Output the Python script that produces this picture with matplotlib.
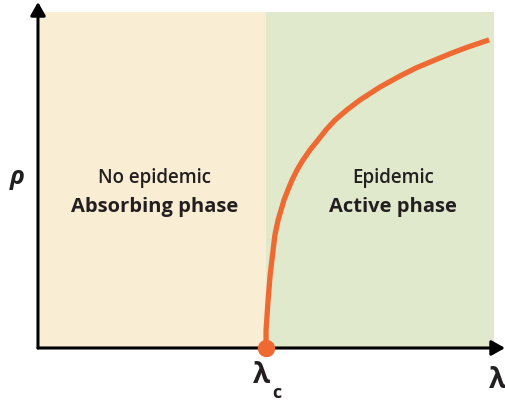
import matplotlib
matplotlib.use("Agg")
import matplotlib.pyplot as plt

# phase boundaries (lambda_c = 1)
lam_c = 1.0
lam_max = 2.0
rho_max = 1.09

# order parameter curve
lam = [1.000, 1.000, 1.009, 1.018, 1.031, 1.039, 1.053, 1.066, 1.079, 1.096,
       1.114, 1.136, 1.162, 1.193, 1.228, 1.263, 1.303, 1.355, 1.412, 1.500,
       1.588, 1.658, 1.732, 1.807, 1.882, 1.978]
rho = [0.000, 0.058, 0.156, 0.237, 0.318, 0.367, 0.416, 0.448, 0.481, 0.513,
       0.545, 0.578, 0.610, 0.643, 0.675, 0.708, 0.740, 0.773, 0.805, 0.847,
       0.883, 0.909, 0.932, 0.955, 0.976, 1.000]

left_labels = ["No epidemic", "Absorbing phase"]
right_labels = ["Epidemic", "Active phase"]

beige = "#F9EDD4"
green = "#E1E9CD"
orange = "#EE6A32"
ink = "#231F20"

fam = ["Open Sans", "DejaVu Sans"]

fig = plt.figure(figsize=(5.06, 4.03), dpi=100)
ax = fig.add_axes([0.0751, 0.1365, 0.923, 0.8586])
ax.set_xlim(0, 2.048)
ax.set_ylim(0, 1.123)
ax.axis("off")

ax.axvspan(0.009, lam_c, ymin=0, ymax=rho_max / 1.123, color=beige, lw=0)
ax.axvspan(lam_c, lam_max, ymin=0, ymax=rho_max / 1.123, color=green, lw=0)

ax.plot(lam, rho, color=orange, lw=3.8, solid_capstyle="butt",
        solid_joinstyle="round", zorder=3)

# axes with arrows
arr = dict(arrowstyle="-|>,head_length=0.8,head_width=0.45", color="black",
           lw=2.2, shrinkA=0, shrinkB=0, mutation_scale=10)
ax.annotate("", xy=(2.048, 0), xytext=(0, 0), arrowprops=arr,
            annotation_clip=False, zorder=4)
ax.annotate("", xy=(0, 1.123), xytext=(0, 0), arrowprops=arr,
            annotation_clip=False, zorder=4)

ax.plot([lam_c], [0], "o", color=orange, ms=11.5, clip_on=False, zorder=5)

ax.text(0.513, 0.552, left_labels[0], ha="center", va="center",
        fontsize=13.5, family=fam, fontweight="semibold", color=ink)
ax.text(0.513, 0.458, left_labels[1], ha="center", va="center",
        fontsize=14.5, family=fam, fontweight="bold", color=ink)
ax.text(1.557, 0.552, right_labels[0], ha="center", va="center",
        fontsize=13.5, family=fam, fontweight="semibold", color=ink)
ax.text(1.557, 0.458, right_labels[1], ha="center", va="center",
        fontsize=14.5, family=fam, fontweight="bold", color=ink)

ax.text(-0.092, 0.552, "ρ", ha="center", va="center", fontsize=18,
        family=fam, fontweight="bold", style="italic", color=ink)
ax.text(0.978, -0.088, "λ", ha="center", va="center", fontsize=20,
        family=fam, fontweight="bold", color=ink)
ax.text(1.046, -0.146, "c", ha="center", va="center", fontsize=13,
        family=fam, fontweight="bold", color=ink)
ax.text(2.013, -0.105, "λ", ha="center", va="center", fontsize=20,
        family=fam, fontweight="bold", color=ink)

fig.savefig("out.png", dpi=100)
